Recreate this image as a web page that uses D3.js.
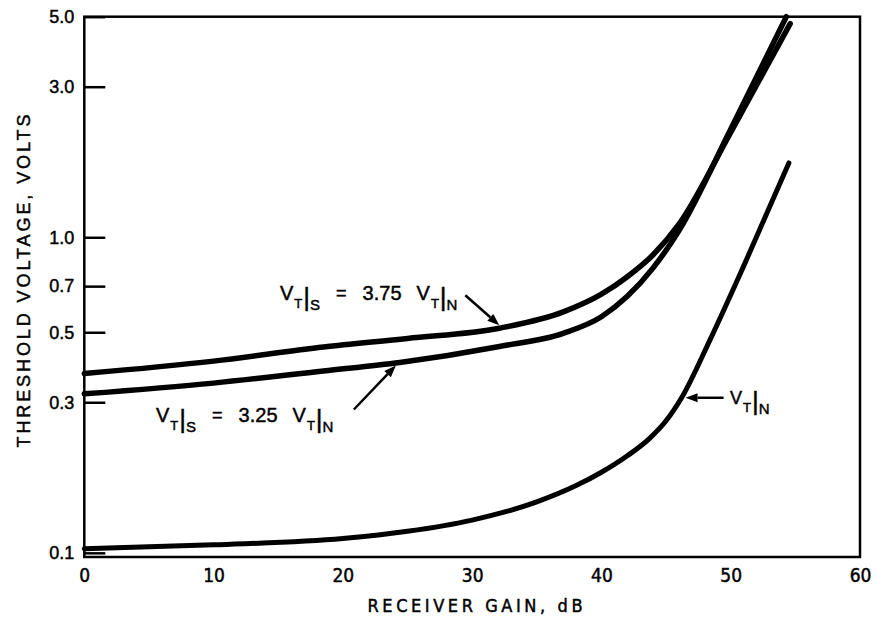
<!DOCTYPE html>
<html>
<head>
<meta charset="utf-8">
<script src="https://cdn.jsdelivr.net/npm/d3@7"></script>
<style>
  html, body { margin: 0; padding: 0; background: #fff; }
  svg { display: block; }
  text { fill: #000; stroke: #000; stroke-width: 0.45px; }
</style>
</head>
<body>
<svg id="chart" width="877" height="617"></svg>
<script>
// ---------- data ----------
const xTicks = [0, 10, 20, 30, 40, 50, 60];
const xTickLabels = ["0", "10", "20", "30", "40", "50", "60"];
const yTicks = [5.0, 3.0, 1.0, 0.7, 0.5, 0.3, 0.1];
const yTickLabels = ["5.0", "3.0", "1.0", "0.7", "0.5", "0.3", "0.1"];

// V_T|S = 3.75 V_T|N
const upperGain = [0, 10, 18.5, 25, 32.1, 37.1, 40, 42, 44, 46, 50, 54.6];
const upperVolt = [0.370, 0.405, 0.449, 0.478, 0.515, 0.581, 0.66, 0.75, 0.88, 1.10, 2.15, 4.75];
// V_T|S = 3.25 V_T|N
const lowerGain = [0, 10, 18.5, 24.4, 32, 37.1, 40, 42, 44, 46, 50, 54.3];
const lowerVolt = [0.319, 0.345, 0.377, 0.401, 0.45, 0.497, 0.56, 0.65, 0.80, 1.05, 2.2, 5.0];
// V_T|N
const noiseGain = [0, 10, 20, 25, 30, 35, 38, 40, 42, 43.75, 45, 46.2, 48.4, 51, 54.5];
const noiseVolt = [0.103, 0.106, 0.111, 0.117, 0.127, 0.145, 0.163, 0.180, 0.203, 0.231, 0.262, 0.31, 0.473, 0.81, 1.72];

// annotation targets (gain, volts on the curve)
const annGain = [32.1, 24.1, 46.2];
const annVolt = [0.515, 0.401, 0.31];

// ---------- layout ----------
const plotL = 84.3, plotR = 860, plotT = 16.7, plotB = 557;
const svg = d3.select("#chart");

const x = d3.scaleLinear().domain([0, 60]).range([plotL, plotR]);
const y = d3.scaleLog().domain([0.097, 5.0]).range([plotB, plotT]);

const FONT = "'Liberation Sans', Arial, Helvetica, sans-serif";
const NARROW = "'Liberation Sans Narrow', 'DejaVu Sans Condensed', 'Liberation Sans', Arial, sans-serif";

// frame
svg.append("rect")
  .attr("x", plotL).attr("y", plotT)
  .attr("width", plotR - plotL).attr("height", plotB - plotT)
  .attr("fill", "none").attr("stroke", "#000").attr("stroke-width", 2.5);

// y axis
const yAxis = d3.axisLeft(y)
  .tickValues(yTicks)
  .tickFormat((d, i) => yTickLabels[i])
  .tickSizeInner(-21).tickSizeOuter(0).tickPadding(10);
const gy = svg.append("g").attr("transform", `translate(${plotL},0)`).call(yAxis);
gy.select(".domain").remove();
gy.selectAll(".tick line").attr("stroke", "#000").attr("stroke-width", 2.5);
gy.selectAll(".tick text")
  .attr("font-family", FONT).attr("font-size", 18).attr("fill", "#000");

// x axis
const xAxis = d3.axisBottom(x)
  .tickValues(xTicks)
  .tickFormat((d, i) => xTickLabels[i])
  .tickSize(0).tickPadding(12);
const gx = svg.append("g").attr("transform", `translate(0,${plotB})`).call(xAxis);
gx.select(".domain").remove();
gx.selectAll(".tick text")
  .attr("font-family", NARROW).attr("font-size", 19).attr("fill", "#000");

// axis titles
svg.append("text")
  .attr("x", 475).attr("y", 612)
  .attr("text-anchor", "middle")
  .attr("font-family", NARROW).attr("font-size", 18)
  .attr("textLength", 215).attr("lengthAdjust", "spacing")
  .text("RECEIVER GAIN, dB");

svg.append("text")
  .attr("transform", "translate(30,281) rotate(-90)")
  .attr("text-anchor", "middle")
  .attr("font-family", FONT).attr("font-size", 18)
  .attr("textLength", 333).attr("lengthAdjust", "spacing")
  .text("THRESHOLD VOLTAGE, VOLTS");

// curves
const line = d3.line()
  .x(d => x(d[0])).y(d => y(d[1]))
  .curve(d3.curveMonotoneX);

function drawCurve(gs, vs, w) {
  svg.append("path")
    .datum(gs.map((g, i) => [g, vs[i]]))
    .attr("d", line)
    .attr("fill", "none").attr("stroke", "#000")
    .attr("stroke-width", w)
    .attr("stroke-linecap", "round").attr("stroke-linejoin", "round");
}
drawCurve(upperGain, upperVolt, 5.5);
drawCurve(lowerGain, lowerVolt, 5.5);
drawCurve(noiseGain, noiseVolt, 5);

// annotation labels
function vLabel(x0, y0, parts) {
  const t = svg.append("text")
    .attr("x", x0).attr("y", y0)
    .attr("font-family", FONT).attr("fill", "#000");
  parts.forEach(p => {
    const s = t.append("tspan")
      .attr("y", y0 + (p.dy || 0))
      .attr("font-size", p.size)
      .text(p.t);
    if (p.dx) s.attr("dx", p.dx);
  });
}
function vtPart(sub, size) {
  return [
    { t: "V", size: size },
    { t: "T", size: 13, dy: 8, dx: 1 },
    { t: "|", size: 26, dy: 6, dx: 1 },
    { t: sub, size: 15, dy: 10 }
  ];
}
function eqLabel(num) {
  return [...vtPart("S", 20), { t: "=", size: 18, dx: 16, dy: -1 }, { t: num, size: 20, dx: 16 },
    ...vtPart("N", 20).map((p, i) => i === 0 ? Object.assign({}, p, { dx: 15 }) : p)];
}
vLabel(280, 300, eqLabel("3.75"));
vLabel(156, 422, eqLabel("3.25"));
vLabel(730, 404, vtPart("N", 18));

// arrows: tail offset (px) from tip, tip offset from curve centre
const tailOff = [[-34, -30], [-42, 44], [38, 0]];
const tipOff = [[0, -3], [0, 3], [4, 0]];
function arrow(i) {
  const tx = x(annGain[i]) + tipOff[i][0];
  const ty = y(annVolt[i]) + tipOff[i][1];
  const sx = tx + tailOff[i][0];
  const sy = ty + tailOff[i][1];
  const ang = Math.atan2(ty - sy, tx - sx);
  const L = 12, Wd = 4.5;
  const bx = tx - L * Math.cos(ang), by = ty - L * Math.sin(ang);
  svg.append("line")
    .attr("x1", sx).attr("y1", sy).attr("x2", bx).attr("y2", by)
    .attr("stroke", "#000").attr("stroke-width", 2.5);
  const px = -Math.sin(ang), py = Math.cos(ang);
  svg.append("path")
    .attr("d", `M${tx},${ty}L${bx + Wd * px},${by + Wd * py}L${bx - Wd * px},${by - Wd * py}Z`)
    .attr("fill", "#000");
}
[0, 1, 2].forEach(arrow);
</script>
</body>
</html>
